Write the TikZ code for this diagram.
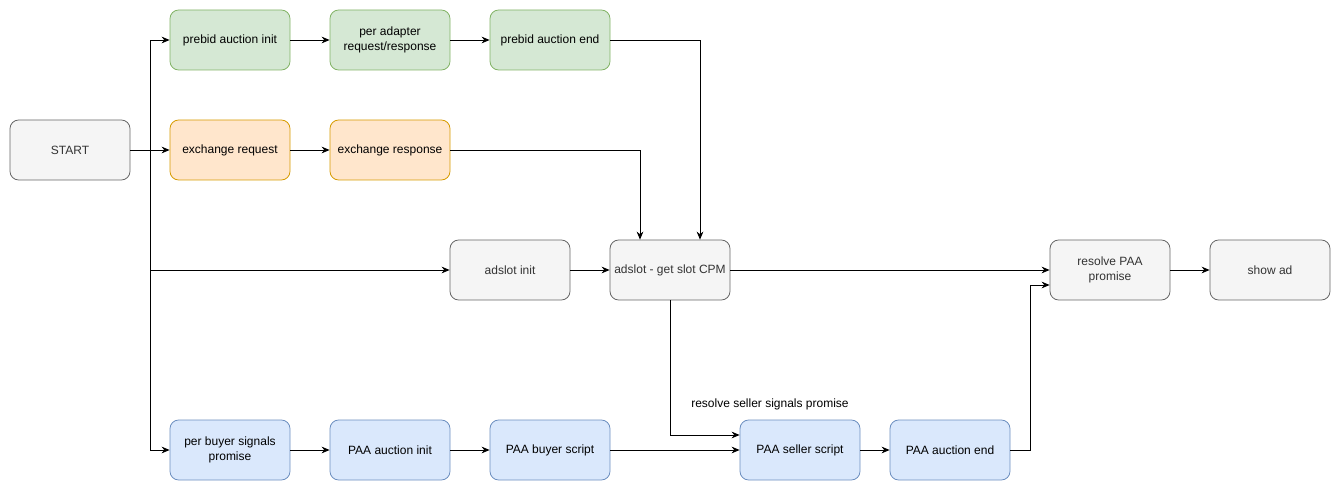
\documentclass[tikz,border=0pt]{standalone}
\usepackage{fontspec}
\setmainfont{Liberation Sans}
\usetikzlibrary{arrows.meta,calc}
\definecolor{greenfill}{HTML}{D5E8D4}
\definecolor{greendraw}{HTML}{82B366}
\definecolor{orangefill}{HTML}{FFE6CC}
\definecolor{orangedraw}{HTML}{D79B00}
\definecolor{bluefill}{HTML}{DAE8FC}
\definecolor{bluedraw}{HTML}{6C8EBF}
\definecolor{grayfill}{HTML}{F5F5F5}
\definecolor{graydraw}{HTML}{666666}
\definecolor{graytext}{HTML}{333333}
\begin{document}
\begin{tikzpicture}[
        x=0.75pt, y=-0.75pt,
        box/.style={rectangle, rounded corners=6.5pt, minimum width=90pt, minimum height=45pt,
            align=center, font=\fontsize{9}{11}\selectfont, inner sep=2pt, line width=0.6pt},
        greenbox/.style={box, fill=greenfill, draw=greendraw},
        orangebox/.style={box, fill=orangefill, draw=orangedraw},
        bluebox/.style={box, fill=bluefill, draw=bluedraw},
        graybox/.style={box, fill=grayfill, draw=graydraw, text=graytext},
        arrow/.style={-{Stealth[length=6pt,width=5pt]}, line width=0.6pt}
    ]
    \useasboundingbox (0,0) rectangle (1341,491);
    % Nodes
    \node[graybox] (start) at (70,150) {START};
    \node[greenbox] (pbinit) at (230,40) {prebid auction init};
    \node[greenbox] (adapter) at (390,40) {per adapter\\request/response};
    \node[greenbox] (pbend) at (550,40) {prebid auction end};
    \node[orangebox] (exreq) at (230,150) {exchange request};
    \node[orangebox] (exresp) at (390,150) {exchange response};
    \node[graybox] (adinit) at (510,270) {adslot init};
    \node[graybox] (cpm) at (670,270) {adslot - get slot CPM};
    \node[graybox] (resolve) at (1110,270) {resolve PAA\\promise};
    \node[graybox] (showad) at (1270,270) {show ad};
    \node[bluebox] (buyer) at (230,450) {per buyer signals\\promise};
    \node[bluebox] (paainit) at (390,450) {PAA auction init};
    \node[bluebox] (buyerscript) at (550,450) {PAA buyer script};
    \node[bluebox] (sellerscript) at (800,450) {PAA seller script};
    \node[bluebox] (paaend) at (950,450) {PAA auction end};
    \node[font=\fontsize{9}{11}\selectfont, inner sep=0pt] (sellerlabel)
        at ($(sellerscript.north)+(-30,-15)$) {resolve seller signals promise};
    \coordinate (split) at (150,150);
    % Edges
    \draw[arrow] (start) -- (exreq);
    \draw[arrow] (split) |- (pbinit);
    \draw[arrow] (split) |- (adinit);
    \draw[arrow] (split) |- (buyer);
    \draw[arrow] (pbinit) -- (adapter);
    \draw[arrow] (adapter) -- (pbend);
    \draw[arrow] (exreq) -- (exresp);
    \draw[arrow] (pbend) -| ($(cpm.north)+(30,0)$);
    \draw[arrow] (exresp) -| ($(cpm.north)+(-30,0)$);
    \draw[arrow] (adinit) -- (cpm);
    \draw[arrow] (cpm) -- (resolve);
    \draw[arrow] (resolve) -- (showad);
    \draw[arrow] (buyer) -- (paainit);
    \draw[arrow] (paainit) -- (buyerscript);
    \draw[arrow] (buyerscript) -- (sellerscript);
    \draw[arrow] (cpm.south) |- ($(sellerscript.west)+(0,-15)$);
    \draw[arrow] (sellerscript) -- (paaend);
    \draw[arrow] (paaend.east) -- ++(20,0) |- ($(resolve.west)+(0,15)$);
\end{tikzpicture}
\end{document}
